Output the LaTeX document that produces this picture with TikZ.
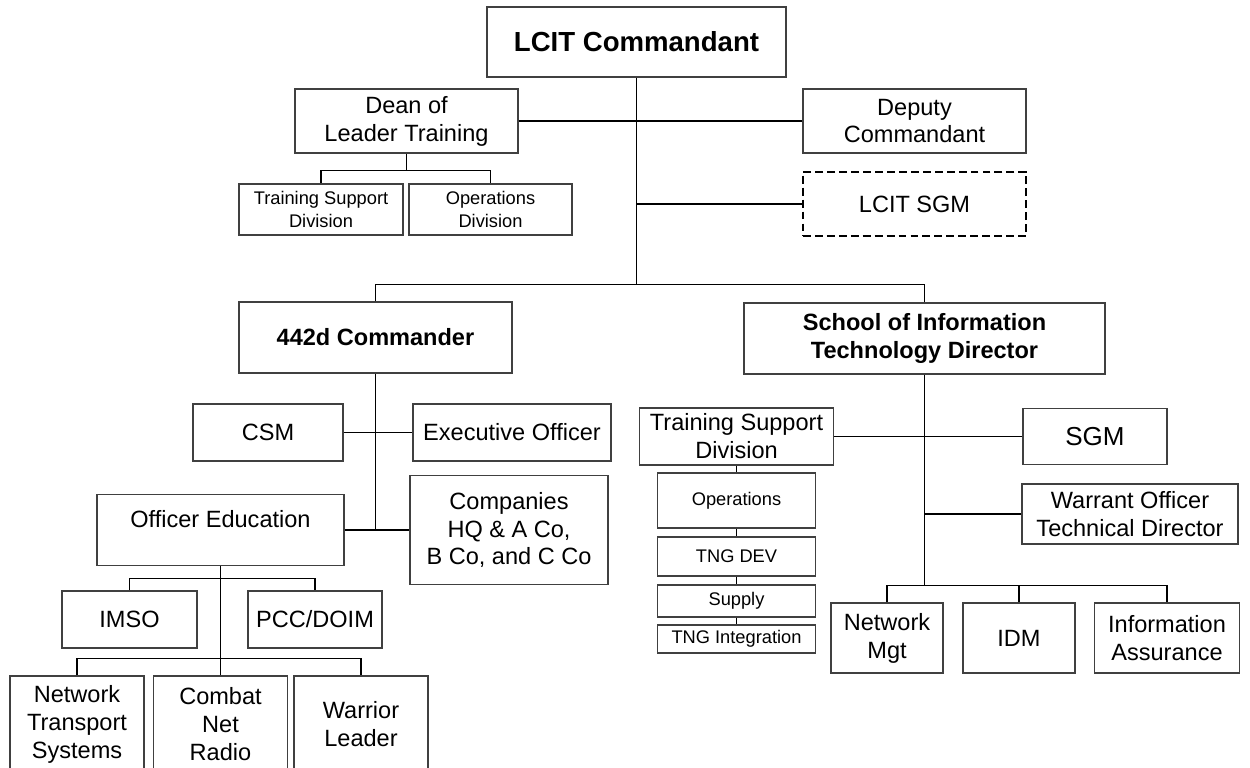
\documentclass[tikz,border=0pt]{standalone}
\usepackage{fontspec}
\setmainfont{Liberation Sans}
\newcommand\txtn{\fontsize{13.4}{15.9}\selectfont}
\newcommand\txts{\fontsize{10.4}{13}\selectfont}
\newcommand\txtb{\fontsize{13.4}{15.9}\selectfont\bfseries}
\newcommand\txtt{\fontsize{15.7}{19}\selectfont\bfseries}
\begin{document}
\begin{tikzpicture}[x=0.02cm, y=-0.02cm,
  orgbox/.style={draw=black!75, line width=0.6pt, rectangle, inner sep=1pt,
                 align=center, font=\txtn},
  dashbox/.style={orgbox, draw=black, line width=1.1pt,
                  dash pattern=on 4.5pt off 2.3pt},
  wh/.style 2 args={minimum width=#1*0.02cm, minimum height=#2*0.02cm},
  conn/.style={draw=black, line width=0.6pt},
  trunk/.style={draw=black, line width=1.1pt}]
\useasboundingbox (0,0) rectangle (1250,767);
\clip (0,0) rectangle (1250,767);

% headquarters level
\node[orgbox, wh={299}{70}, font=\txtt] (cmd) at (636.5,42) {LCIT Commandant};
\node[orgbox, wh={223}{64}] (dean) at (406.5,121) {Dean of\\Leader Training};
\node[orgbox, wh={223}{64}] (dep) at (914.5,121) {Deputy\\Commandant};
\node[dashbox, wh={223}{64}] (lsgm) at (914.5,204) {LCIT SGM};
\node[orgbox, wh={164}{51}, font=\txts] (tsdA) at (321,209.5) {Training Support\\Division};
\node[orgbox, wh={163}{51}, font=\txts] (opsA) at (490.5,209.5) {Operations\\Division};

% 442d branch
\node[orgbox, wh={273}{71}, font=\txtb] (cmdr) at (375.5,337.5) {442d Commander};
\node[orgbox, wh={150}{57}] (csm) at (268,432.5) {CSM};
\node[orgbox, wh={198}{57}] (xo) at (512,432.5) {Executive Officer};
\node[orgbox, wh={247}{71}, text height=9.6pt, text depth=13pt] (oe) at (220.5,530) {Officer Education};
\node[orgbox, wh={198}{109}] (coys) at (509,530) {Companies\\HQ \& A Co,\\B Co, and C Co};
\node[orgbox, wh={135}{57}] (imso) at (129.5,619.5) {IMSO};
\node[orgbox, wh={134}{57}] (pcc) at (315,619.5) {PCC/DOIM};
\node[orgbox, wh={134}{96}] (nts) at (77,724) {Network\\Transport\\Systems};
\node[orgbox, wh={134}{96}] (cnr) at (220.5,724) {Combat\\Net\\Radio};
\node[orgbox, wh={134}{96}] (wl) at (361,724) {Warrior\\Leader};

% school branch
\node[orgbox, wh={361}{71}, font=\txtb] (sit) at (924.5,338.5) {School of Information\\Technology Director};
\node[orgbox, wh={194}{57}] (tsdB) at (736.5,436.5) {Training Support\\Division};
\node[orgbox, wh={144}{56}, font=\fontsize{14.8}{17}\selectfont] (sgm) at (1095,436.5) {SGM};
\node[orgbox, wh={216}{60}] (wo) at (1130,514) {Warrant Officer\\Technical Director};
\node[orgbox, wh={158}{55}, font=\txts] (opsB) at (736.5,500.5) {Operations};
\node[orgbox, wh={158}{39}, font=\txts] (tdev) at (736.5,556.5) {TNG DEV};
\node[orgbox, wh={158}{32}, font=\txts] (sup) at (736.5,601) {Supply};
\node[orgbox, wh={158}{28}, font=\txts] (tint) at (736.5,639) {TNG Integration};
\node[orgbox, wh={112}{70}] (nm) at (887,638) {Network\\Mgt};
\node[orgbox, wh={112}{70}] (idm) at (1019,638) {IDM};
\node[orgbox, wh={145}{70}] (ia) at (1167,638) {Information\\Assurance};

% connectors: headquarters
\path (cmd.south) ++(0,207) coordinate (j0);
\draw[trunk] (cmd.south) -- (j0);
\draw[conn] (cmdr.north) |- (j0) -| (sit.north);
\draw[conn] (dean.east) -- (dep.west);
\draw[conn] (cmd.south |- lsgm.west) -- (lsgm.west);
\path (dean.south) ++(0,17) coordinate (jd);
\draw[conn] (dean.south) -- (jd);
\draw[conn] (tsdA.north) |- (jd) -| (opsA.north);

% connectors: 442d
\draw[trunk] (cmdr.south) -- (cmdr.south |- coys.west);
\draw[conn] (csm.east) -- (xo.west);
\draw[conn] (oe.east) -- (coys.west);
\path (oe.south) ++(0,12) coordinate (jo1);
\path (oe.south) ++(0,92) coordinate (jo2);
\draw[trunk] (oe.south) -- (jo2);
\draw[conn] (imso.north) |- (jo1) -| (pcc.north);
\draw[conn] (nts.north) |- (jo2) -| (wl.north);
\draw[conn] (cnr.north) -- (jo2);

% connectors: school
\path (sit.south) ++(0,211) coordinate (js);
\draw[trunk] (sit.south) -- (js);
\draw[conn] (tsdB.east) -- (sgm.west);
\draw[conn] (sit.south |- wo.west) -- (wo.west);
\draw[conn] (nm.north) |- (js) -| (ia.north);
\draw[conn] (idm.north) -- (idm.north |- js);
\draw[conn] (tsdB.south) -- (opsB.north);
\draw[conn] (opsB.south) -- (tdev.north);
\draw[conn] (tdev.south) -- (sup.north);
\draw[conn] (sup.south) -- (tint.north);
\end{tikzpicture}
\end{document}
